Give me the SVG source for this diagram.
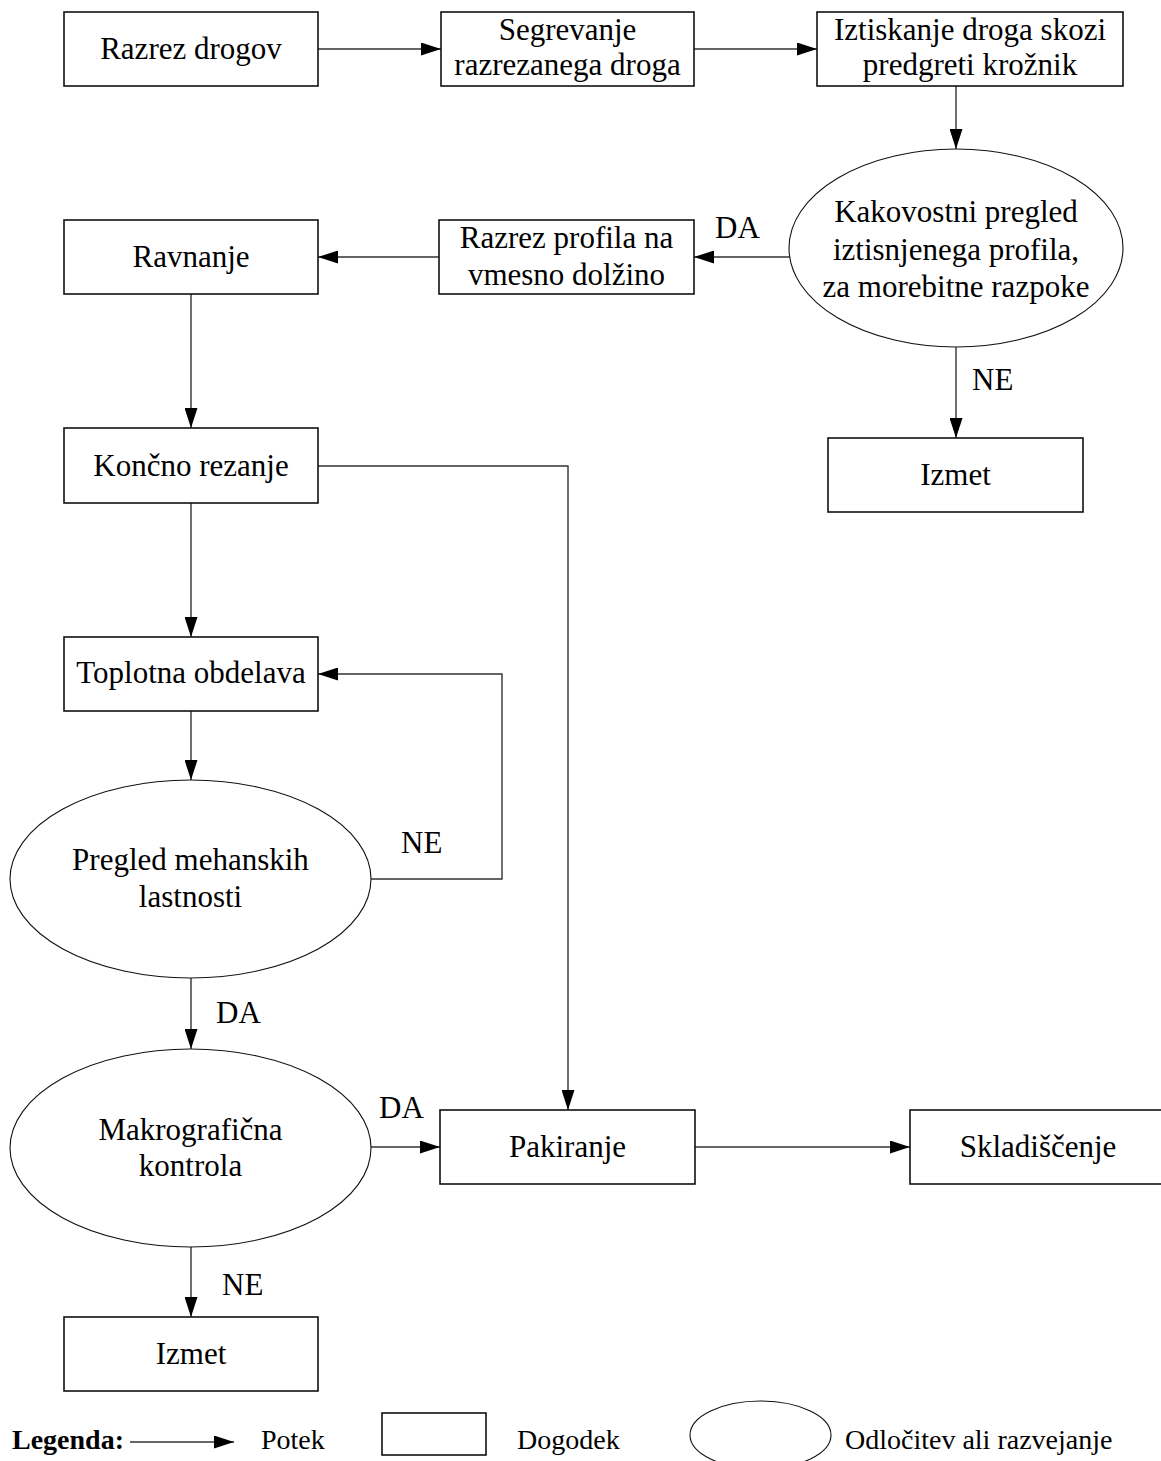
<svg xmlns="http://www.w3.org/2000/svg" width="1161" height="1461" viewBox="0 0 1161 1461">
  <style>
    .box { fill: #ffffff; stroke: #111111; stroke-width: 1.6; }
    .dec { fill: #ffffff; stroke: #111111; stroke-width: 1.1; }
    .lbl { font-family: "Liberation Serif", "Times New Roman", serif; font-size: 31px; fill: #000000; text-anchor: middle; }
    .tag { font-family: "Liberation Serif", "Times New Roman", serif; font-size: 31px; fill: #000000; }
    .leg { font-family: "Liberation Serif", "Times New Roman", serif; font-size: 28px; fill: #000000; }
    .flow { fill: none; stroke: #333333; stroke-width: 1.4; }
  </style>
  <defs>
    <marker id="arrow" viewBox="0 0 20 13" refX="20" refY="6.5" markerWidth="20" markerHeight="13" markerUnits="userSpaceOnUse" orient="auto">
      <path d="M0,0 L20,6.5 L0,13 Z" fill="#000000"/>
    </marker>
  </defs>
  <rect width="1161" height="1461" fill="#ffffff"/>

  <!-- connectors -->
  <g id="connectors">
    <line class="flow" x1="318" y1="49" x2="441" y2="49" marker-end="url(#arrow)"/>
    <line class="flow" x1="694" y1="49" x2="817" y2="49" marker-end="url(#arrow)"/>
    <line class="flow" x1="956" y1="86" x2="956" y2="149" marker-end="url(#arrow)"/>
    <line class="flow" x1="790" y1="257" x2="694" y2="257" marker-end="url(#arrow)"/>
    <line class="flow" x1="439" y1="257" x2="318" y2="257" marker-end="url(#arrow)"/>
    <line class="flow" x1="956" y1="347" x2="956" y2="438" marker-end="url(#arrow)"/>
    <line class="flow" x1="191" y1="294" x2="191" y2="428" marker-end="url(#arrow)"/>
    <polyline class="flow" points="318,466 568,466 568,1110" marker-end="url(#arrow)"/>
    <line class="flow" x1="191" y1="503" x2="191" y2="637" marker-end="url(#arrow)"/>
    <line class="flow" x1="191" y1="711" x2="191" y2="780" marker-end="url(#arrow)"/>
    <polyline class="flow" points="371,879 502,879 502,674 318,674" marker-end="url(#arrow)"/>
    <line class="flow" x1="191" y1="978" x2="191" y2="1049" marker-end="url(#arrow)"/>
    <line class="flow" x1="371" y1="1147" x2="440" y2="1147" marker-end="url(#arrow)"/>
    <line class="flow" x1="695" y1="1147" x2="910" y2="1147" marker-end="url(#arrow)"/>
    <line class="flow" x1="191" y1="1247" x2="191" y2="1317" marker-end="url(#arrow)"/>
    <text class="tag" x="715" y="238">DA</text>
    <text class="tag" x="972" y="390">NE</text>
    <text class="tag" x="401" y="853">NE</text>
    <text class="tag" x="216" y="1023">DA</text>
    <text class="tag" x="379" y="1118">DA</text>
    <text class="tag" x="222" y="1295">NE</text>
  </g>

  <!-- nodes -->
  <g id="razrez-drogov">
    <rect class="box" x="64" y="12" width="254" height="74"/>
    <text class="lbl" x="191" y="59">Razrez drogov</text>
  </g>
  <g id="segrevanje">
    <rect class="box" x="441" y="12" width="253" height="74"/>
    <text class="lbl" x="567.5" y="40">Segrevanje</text>
    <text class="lbl" x="567.5" y="75">razrezanega droga</text>
  </g>
  <g id="iztiskanje">
    <rect class="box" x="817" y="12" width="306" height="74"/>
    <text class="lbl" x="970" y="40">Iztiskanje droga skozi</text>
    <text class="lbl" x="970" y="75">predgreti krožnik</text>
  </g>
  <g id="kakovostni-pregled">
    <ellipse class="dec" cx="956" cy="248" rx="167" ry="99"/>
    <text class="lbl" x="956" y="222">Kakovostni pregled</text>
    <text class="lbl" x="956" y="259.5">iztisnjenega profila,</text>
    <text class="lbl" x="956" y="297">za morebitne razpoke</text>
  </g>
  <g id="razrez-profila">
    <rect class="box" x="439" y="220" width="255" height="74"/>
    <text class="lbl" x="566.5" y="248">Razrez profila na</text>
    <text class="lbl" x="566.5" y="285">vmesno dolžino</text>
  </g>
  <g id="ravnanje">
    <rect class="box" x="64" y="220" width="254" height="74"/>
    <text class="lbl" x="191" y="267">Ravnanje</text>
  </g>
  <g id="izmet-1">
    <rect class="box" x="828" y="438" width="255" height="74"/>
    <text class="lbl" x="955.5" y="485">Izmet</text>
  </g>
  <g id="koncno-rezanje">
    <rect class="box" x="64" y="428" width="254" height="75"/>
    <text class="lbl" x="191" y="476">Končno rezanje</text>
  </g>
  <g id="toplotna-obdelava">
    <rect class="box" x="64" y="637" width="254" height="74"/>
    <text class="lbl" x="191" y="683">Toplotna obdelava</text>
  </g>
  <g id="pregled-mehanskih">
    <ellipse class="dec" cx="190.5" cy="879" rx="180.5" ry="99"/>
    <text class="lbl" x="190.5" y="870">Pregled mehanskih</text>
    <text class="lbl" x="190.5" y="907">lastnosti</text>
  </g>
  <g id="makrograficna-kontrola">
    <ellipse class="dec" cx="190.5" cy="1148" rx="180.5" ry="99"/>
    <text class="lbl" x="190.5" y="1140">Makrografična</text>
    <text class="lbl" x="190.5" y="1176">kontrola</text>
  </g>
  <g id="pakiranje">
    <rect class="box" x="440" y="1110" width="255" height="74"/>
    <text class="lbl" x="567.5" y="1157">Pakiranje</text>
  </g>
  <g id="skladiscenje">
    <rect class="box" x="910" y="1110" width="256" height="74"/>
    <text class="lbl" x="1038" y="1157">Skladiščenje</text>
  </g>
  <g id="izmet-2">
    <rect class="box" x="64" y="1317" width="254" height="74"/>
    <text class="lbl" x="191" y="1364">Izmet</text>
  </g>

  <!-- legend -->
  <g id="legend">
    <text class="leg" x="12" y="1449" font-weight="bold">Legenda:</text>
    <line class="flow" x1="130" y1="1442" x2="234" y2="1442" marker-end="url(#arrow)"/>
    <text class="leg" x="261" y="1449">Potek</text>
    <rect class="box" x="382" y="1413" width="104" height="42"/>
    <text class="leg" x="517" y="1449">Dogodek</text>
    <ellipse class="dec" cx="760.5" cy="1435" rx="70.5" ry="34"/>
    <text class="leg" x="845" y="1449">Odločitev ali razvejanje</text>
  </g>
</svg>
